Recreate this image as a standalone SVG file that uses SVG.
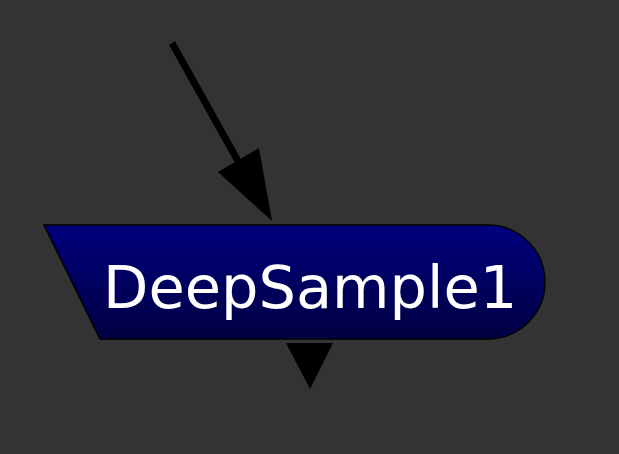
<svg xmlns="http://www.w3.org/2000/svg" width="619" height="454" viewBox="0 0 619 454">
<defs>
<linearGradient id="g" x1="0" y1="0" x2="0" y2="1">
<stop offset="0" stop-color="#00007e"/>
<stop offset="1" stop-color="#000042"/>
</linearGradient>
<style>
.node{fill:url(#g);stroke:#000;stroke-width:1.5}
.lbl{font-family:"DejaVu Sans",Verdana,sans-serif;font-size:59px;fill:#fff}
.edge{stroke:#000;stroke-width:7;fill:none}
.head{fill:#000}
</style>
</defs>
<rect width="619" height="454" fill="#333333"/>
<g id="connectors">
<line class="edge" x1="172" y1="43" x2="243" y2="170"/>
<polygon class="head" points="218,172 259,148 272,221"/>
<polygon class="head" points="286,343 333,343 310,389"/>
</g>
<g id="DeepSample1">
<path class="node" d="M44,225 L488,225 A57,57 0 0 1 488,339 L100,339 Z"/>
<text class="lbl" x="103" y="308">DeepSample1</text>
</g>
</svg>
